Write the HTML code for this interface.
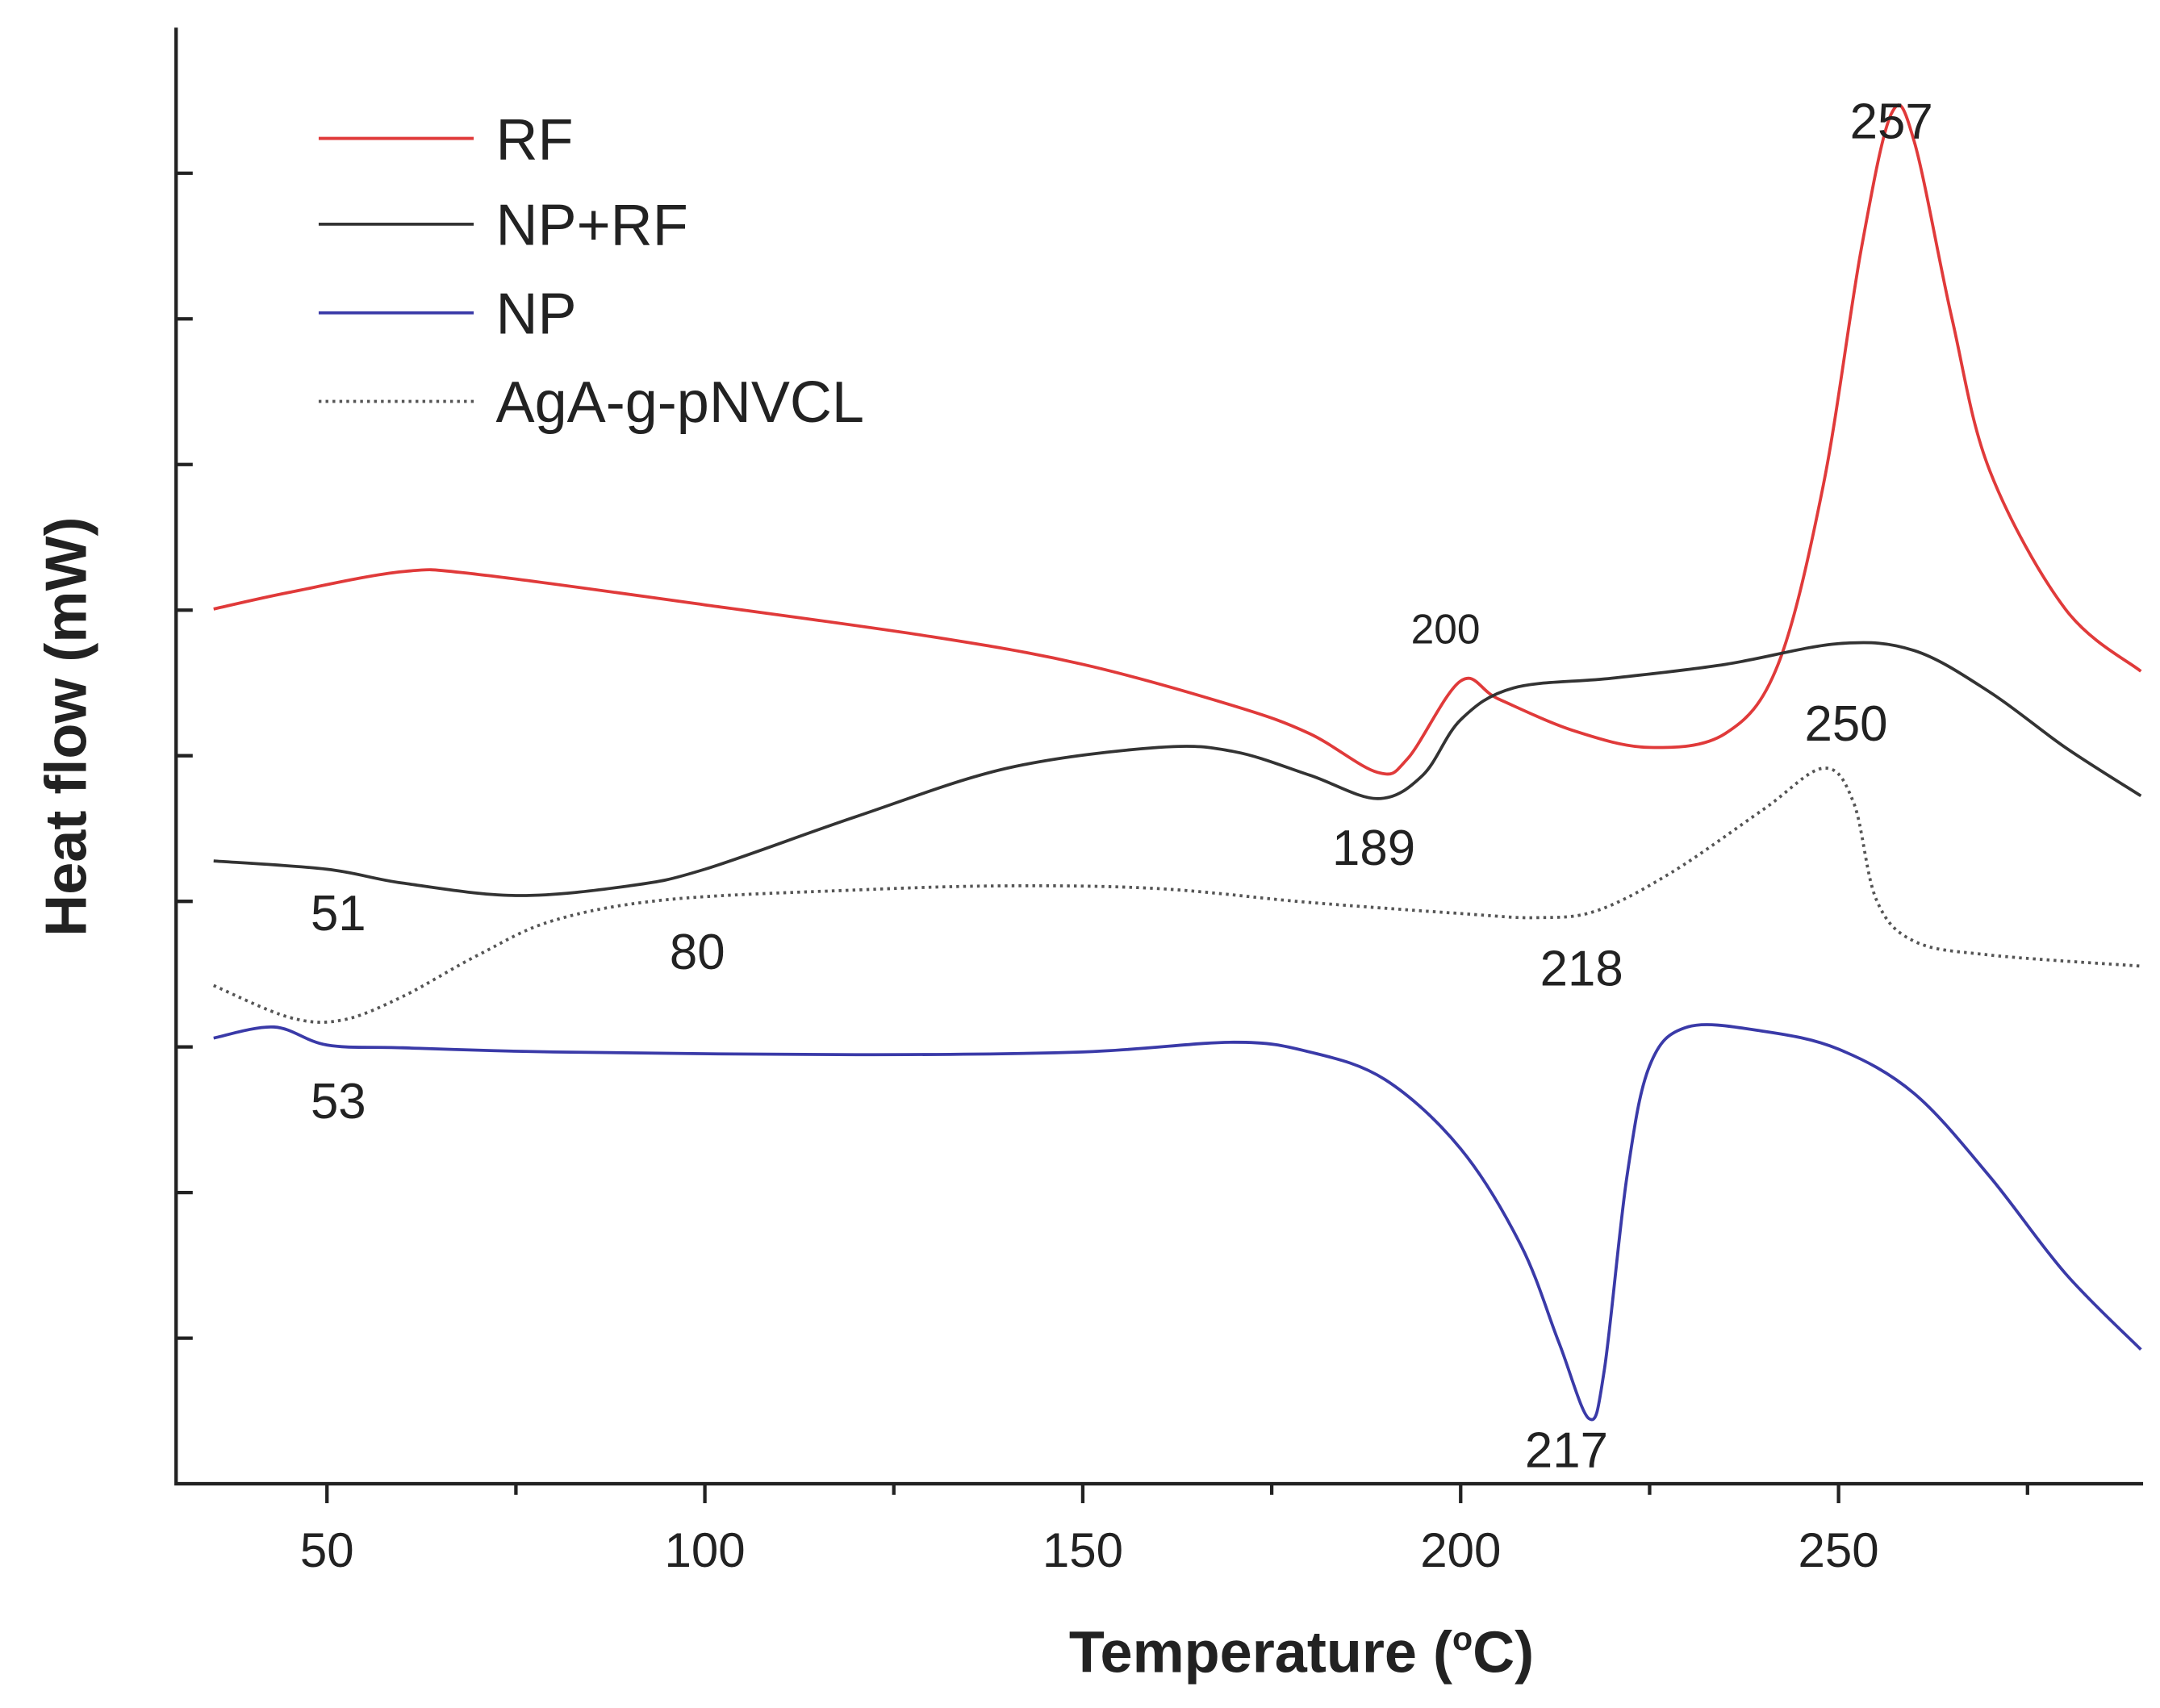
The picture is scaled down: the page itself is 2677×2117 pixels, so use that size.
<!DOCTYPE html>
<html><head><meta charset="utf-8"><style>
html,body{margin:0;padding:0;background:#fff;}
svg{display:block;}
text{font-family:"Liberation Sans",Arial,sans-serif;fill:#222;}
</style></head><body>
<svg id="chart" width="2677" height="2117" viewBox="0 0 1560 1234" xmlns="http://www.w3.org/2000/svg">
<g id="axes"></g>
<g id="series"></g>
<g id="labels"></g>
</svg>
<script>
const xTicks=[50,100,150,200,250];
const xMinor=[75,125,175,225,275];
const yTicks=[1,2,3,4,5,6,7,8,9];
const rfX=[35,45,60,70,100,130,150,170,180,189,193,200,205,215,225,235,242,248,253,257,260,265,270,280,290];
const rfY=[632,644,659,657,635,612,592,562,542,514,524,580,567,544,532,542,592,722,892,990,970,842,732,632,587];
const nprfX=[35,50,60,75,90,100,120,140,160,170,180,189,195,200,207,220,235,250,260,270,280,290];
const nprfY=[450,444,434,425,432,444,482,517,532,529,512,495,512,552,575,582,592,607,602,572,532,497];
const agaX=[35,45,52,60,70,80,95,120,140,160,180,200,210,218,228,240,248,252,255,260,270,290];
const agaY=[360,337,335,352,382,407,422,429,432,430,420,412,409,414,442,487,517,492,422,392,382,374];
const npX=[35,43,50,60,80,120,150,170,180,190,200,208,213,217,219,222,225,230,240,250,260,270,280,290];
const npY=[322,330,317,315,312,310,312,319,312,292,242,172,102,47,82,222,302,330,327,314,282,222,152,97];
const legendNames=["RF","NP+RF","NP","AgA-g-pNVCL"];
const annoText=["257","200","250","189","51","80","218","53","217"];
const annoX=[257,198,251,188.5,51.5,99,216,51.5,214];
const annoY=[972,607,537,447,400,372,360,264,12];

const NS="http://www.w3.org/2000/svg";
const X0=127,X1=1548,YB=1072,YT=20;
const sx=v=>236+(v-50)*5.46;
const sy=v=>YB-v;
const tickY=v=>YB-v*105.2;
function el(t,a,p){const e=document.createElementNS(NS,t);for(const k in a)e.setAttribute(k,a[k]);p.appendChild(e);return e;}
const axes=document.getElementById('axes');
let e=el('path',{d:`M${X0},${YT} L${X0},${YB} L${X1},${YB}`,fill:'none',stroke:'#222','stroke-width':2.5},axes);


xTicks.forEach(t=>{const x=sx(t);
 let l=el('line',{x1:x,x2:x,y1:YB,y2:YB+14,stroke:'#222','stroke-width':2.5},axes);
 
 
 let tx=el('text',{x:x,y:YB+60,'font-size':35,'text-anchor':'middle'},axes);tx.textContent=t;
 
 });
xMinor.forEach(t=>{const x=sx(t);
 let l=el('line',{x1:x,x2:x,y1:YB,y2:YB+8,stroke:'#222','stroke-width':2.5},axes);
 
 });
yTicks.forEach(t=>{const y=tickY(t);
 let l=el('line',{x1:X0,x2:X0+12,y1:y,y2:y,stroke:'#222','stroke-width':2.5},axes);
 
 });
let xt=el('text',{x:940,y:1208,'font-size':42,'font-weight':'bold','text-anchor':'middle'},axes);
xt.innerHTML='Temperature (<tspan dy="-16" font-size="24">o</tspan><tspan dy="16">C)</tspan>';


let yt=el('text',{x:0,y:0,'font-size':42,'font-weight':'bold','text-anchor':'middle',transform:'translate(62,525) rotate(-90)'},axes);
yt.textContent='Heat flow (mW)';



function smooth(xs,ys){const p=xs.map((x,i)=>[sx(x),sy(ys[i])]);let d=`M${p[0][0]},${p[0][1]}`;
 for(let i=0;i<p.length-1;i++){const p0=p[i-1]||p[i],p1=p[i],p2=p[i+1],p3=p[i+2]||p2;
 const c1=[p1[0]+(p2[0]-p0[0])/6,p1[1]+(p2[1]-p0[1])/6],c2=[p2[0]-(p3[0]-p1[0])/6,p2[1]-(p3[1]-p1[1])/6];
 d+=` C${c1[0]},${c1[1]} ${c2[0]},${c2[1]} ${p2[0]},${p2[1]}`;}return d;}
const ser=document.getElementById('series');
const defs=[[rfX,rfY,'#e03a3a','','rf-line'],[nprfX,nprfY,'#333','','np-rf-line'],[npX,npY,'#3a3aa8','','np-line'],[agaX,agaY,'#555','2,3','aga-line']];
defs.forEach(s=>{let p=el('path',{d:smooth(s[0],s[1]),fill:'none',stroke:s[2],'stroke-width':2.2,'stroke-dasharray':s[3]},ser);
 
 });
const legY=[100,162,226,290];
legendNames.forEach((n,i)=>{let g=el('g',{},ser);
 
 
 el('line',{x1:230,x2:342,y1:legY[i],y2:legY[i],stroke:defs[i][2],'stroke-width':2.2,'stroke-dasharray':defs[i][3]},g);
 let t=el('text',{x:358,y:legY[i]+15,'font-size':42},g);t.textContent=n;});
const lab=document.getElementById('labels');
annoText.forEach((s,i)=>{let t=el('text',{x:sx(annoX[i]),y:sy(annoY[i]),'font-size':i==1?30:36,'text-anchor':'middle'},lab);t.textContent=s;
 
 });
</script>
</body></html>
